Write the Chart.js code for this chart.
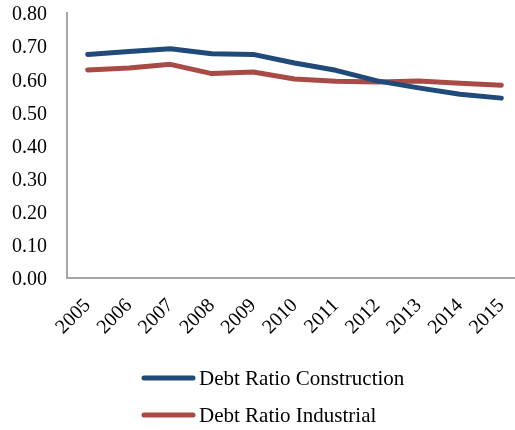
<!DOCTYPE html>
<html>
<head>
<meta charset="utf-8">
<script src="https://cdn.jsdelivr.net/npm/chart.js@4/dist/chart.umd.min.js"></script>
<style>
  html, body { margin: 0; padding: 0; background: #ffffff; overflow: hidden; }
  #wrap { width: 522px; height: 430px; }
</style>
</head>
<body>
<div id="wrap"><canvas id="c" width="522" height="430"></canvas></div>
<script>
const years = ['2005', '2006', '2007', '2008', '2009', '2010', '2011', '2012', '2013', '2014', '2015'];
const debtRatioConstruction = [0.675, 0.684, 0.692, 0.677, 0.675, 0.649, 0.627, 0.595, 0.574, 0.555, 0.543];
const debtRatioIndustrial   = [0.628, 0.634, 0.645, 0.617, 0.622, 0.601, 0.594, 0.592, 0.595, 0.588, 0.582];
const seriesNames = ['Debt Ratio Construction', 'Debt Ratio Industrial'];
const yTicks = [0, 0.1, 0.2, 0.3, 0.4, 0.5, 0.6, 0.7, 0.8];

const FONT = '"Liberation Serif", "Times New Roman", serif';
const BLUE = '#1f4a7a';
const RED = '#a94a45';
const AXIS = '#a6a6a6';

// Legend stacked in rows with aligned left edges, below the axis labels
const stackedLegend = {
  id: 'stackedLegend',
  afterDraw(chart) {
    const ctx = chart.ctx;
    const x0 = 142, lineLen = 53, gap = 4;
    const rows = [378, 415];
    ctx.save();
    ctx.font = '21px ' + FONT;
    ctx.textBaseline = 'middle';
    ctx.textAlign = 'left';
    chart.data.datasets.forEach((ds, i) => {
      const y = rows[i];
      ctx.strokeStyle = ds.borderColor;
      ctx.lineWidth = 5;
      ctx.lineCap = 'round';
      ctx.beginPath();
      ctx.moveTo(x0 + 2, y);
      ctx.lineTo(x0 + lineLen - 2, y);
      ctx.stroke();
      ctx.fillStyle = '#000000';
      ctx.fillText(ds.label, x0 + lineLen + gap, y + 1);
    });
    ctx.restore();
  }
};

new Chart(document.getElementById('c'), {
  type: 'line',
  data: {
    labels: years,
    datasets: [
      { label: seriesNames[0], data: debtRatioConstruction, borderColor: BLUE, backgroundColor: BLUE },
      { label: seriesNames[1], data: debtRatioIndustrial, borderColor: RED, backgroundColor: RED }
    ]
  },
  options: {
    responsive: false,
    animation: false,
    layout: { padding: { top: 13, right: 0, bottom: 0, left: 0 } },
    elements: {
      line: { borderWidth: 5, tension: 0, borderCapStyle: 'round', borderJoinStyle: 'round' },
      point: { radius: 0, hoverRadius: 0 }
    },
    plugins: {
      legend: { display: false },
      tooltip: { enabled: false }
    },
    scales: {
      x: {
        type: 'category',
        offset: true,
        grid: { display: false, drawTicks: false },
        border: { display: true, color: AXIS, width: 2 },
        ticks: {
          color: '#000000',
          font: { family: FONT, size: 20 },
          minRotation: 45,
          maxRotation: 45,
          padding: 16,
          autoSkip: false
        },
        afterFit(scale) {
          scale.height = 152;
          scale.paddingLeft = 0;
          scale.paddingRight = 0;
        }
      },
      y: {
        min: 0,
        max: 0.8,
        afterBuildTicks(scale) { scale.ticks = yTicks.map(v => ({ value: v })); },
        grid: { display: false, drawTicks: false },
        border: { display: true, color: AXIS, width: 2 },
        ticks: {
          color: '#000000',
          font: { family: FONT, size: 20 },
          padding: 20,
          labelOffset: 2,
          callback: v => Number(v).toFixed(2)
        },
        afterFit(scale) {
          scale.width = 67;
          scale.paddingTop = 0;
          scale.paddingBottom = 0;
        }
      }
    }
  },
  plugins: [stackedLegend]
});
</script>
</body>
</html>
